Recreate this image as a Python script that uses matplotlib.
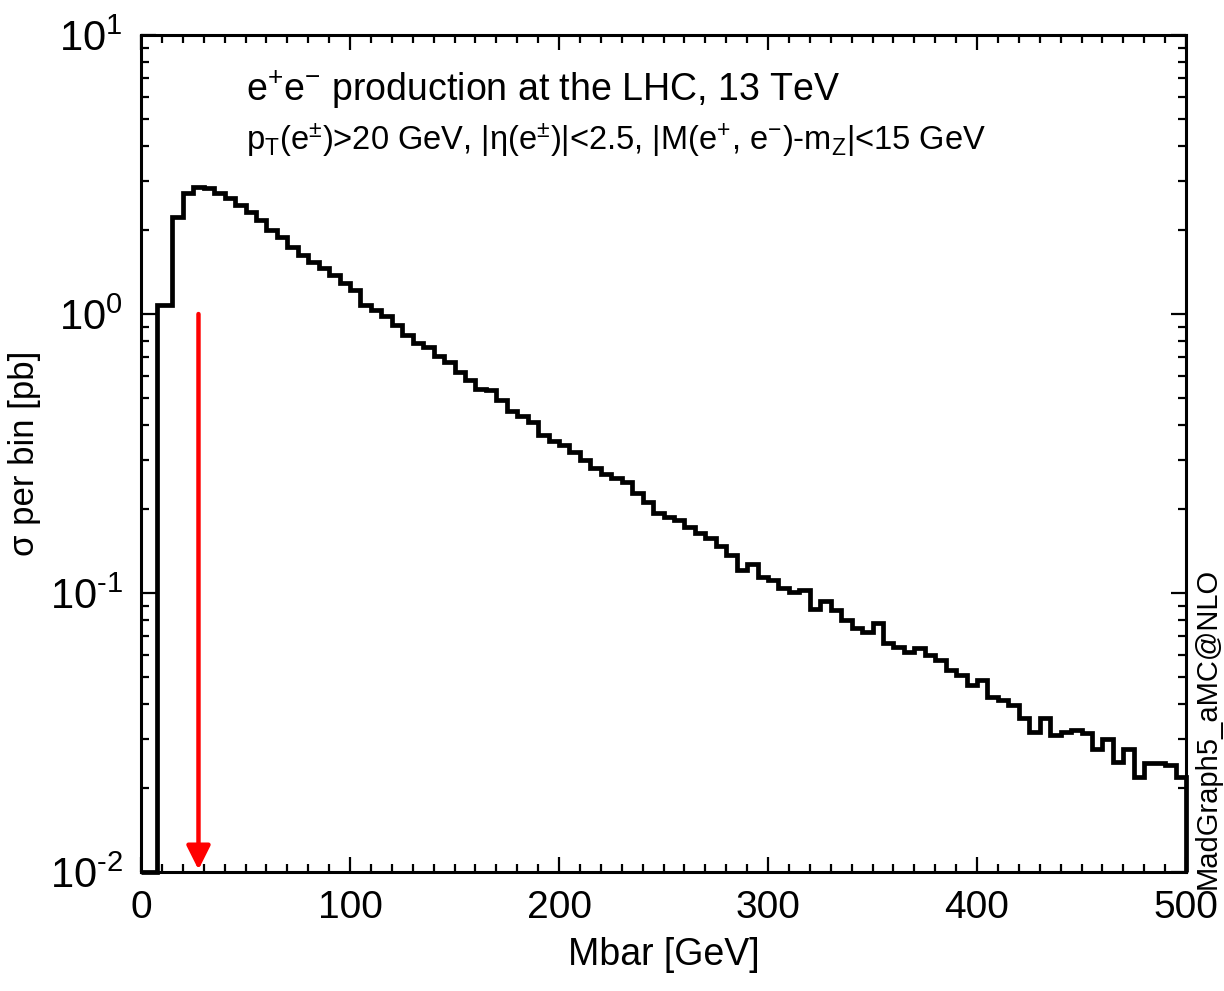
import matplotlib
matplotlib.use("Agg")
import matplotlib.pyplot as plt
import numpy as np
from matplotlib.ticker import LogLocator, MultipleLocator, FuncFormatter, NullFormatter

plt.rcParams['font.family'] = ['Liberation Sans Narrow', 'Liberation Sans', 'DejaVu Sans']
plt.rcParams['mathtext.fontset'] = 'custom'
plt.rcParams['mathtext.rm'] = 'Liberation Sans'
plt.rcParams['mathtext.it'] = 'Liberation Sans:italic'

# bin edges of the Mbar histogram [GeV]
bin_edges = [0, 7.5] + list(range(15, 505, 5))

# sigma per bin [pb]
sigma = [
    0.01, 1.08,
    2.23, 2.71, 2.86, 2.82, 2.71, 2.60, 2.46, 2.33, 2.17, 2.00,
    1.89, 1.74, 1.63, 1.54, 1.46, 1.38, 1.29, 1.22, 1.08, 1.03,
    0.98, 0.91, 0.84, 0.785, 0.76, 0.71, 0.675, 0.62, 0.58, 0.54,
    0.535, 0.49, 0.45, 0.43, 0.41, 0.37, 0.35, 0.34, 0.32, 0.30,
    0.28, 0.268, 0.258, 0.25, 0.228, 0.212, 0.193, 0.188, 0.183, 0.173,
    0.164, 0.158, 0.147, 0.137, 0.121, 0.127, 0.114, 0.111, 0.104, 0.101,
    0.1025, 0.088, 0.094, 0.087, 0.080, 0.0747, 0.0727, 0.0779, 0.066, 0.0642,
    0.0617, 0.0635, 0.060, 0.0575, 0.053, 0.0508, 0.0468, 0.0488, 0.0425, 0.0413,
    0.0397, 0.0356, 0.0318, 0.0356, 0.031, 0.0318, 0.0323, 0.0315, 0.0277, 0.0301,
    0.0249, 0.0277, 0.022, 0.0245, 0.0245, 0.0241, 0.022,
]

arrow_x = 27.5
arrow_top = 1.0


def pow10(v, pos):
    e = int(round(np.log10(v)))
    return '10$^{\\mathregular{%s}}$' % str(e).replace('-', '\u2010')


fig = plt.figure(figsize=(12.24, 9.91), dpi=100)
ax = fig.add_axes([0.1152, 0.120, 0.8538, 0.8447])

ax.stairs(sigma, bin_edges, baseline=0.01, color='black', lw=3.4, clip_on=False, zorder=3)

ax.annotate('', xy=(arrow_x, 0.0102), xytext=(arrow_x, arrow_top),
            arrowprops=dict(arrowstyle='-|>', color='red', lw=3.2,
                            mutation_scale=36, shrinkA=0, shrinkB=0),
            zorder=4)

ax.set_yscale('log')
ax.set_xlim(0, 500)
ax.set_ylim(1e-2, 1e1)

ax.xaxis.set_major_locator(MultipleLocator(100))
ax.xaxis.set_minor_locator(MultipleLocator(10))
ax.yaxis.set_major_locator(LogLocator(base=10, numticks=10))
ax.yaxis.set_minor_locator(LogLocator(base=10, subs=np.arange(2, 10), numticks=20))
ax.yaxis.set_major_formatter(FuncFormatter(pow10))
ax.yaxis.set_minor_formatter(NullFormatter())

ax.tick_params(which='both', direction='in', top=True, right=True, width=1.6, color='black')
ax.tick_params(which='major', length=11)
ax.tick_params(which='minor', length=5.5)
ax.tick_params(axis='x', which='major', labelsize=28, pad=13)
ax.tick_params(axis='y', which='major', labelsize=30, pad=13)
for s in ax.spines.values():
    s.set_linewidth(2.2)

ax.set_xlabel('Mbar [GeV]', fontsize=27, labelpad=8)
ax.set_ylabel('σ per bin [pb]', fontsize=25, labelpad=6)

ax.text(0.1, 0.934, r'e$^{+}$e$^{-}$ production at the LHC, 13 TeV',
        transform=ax.transAxes, fontsize=27, va='center', ha='left')
ax.text(0.1, 0.874,
        r'p$_\mathrm{T}$(e$^{\pm}$)>20 GeV, |η(e$^{\pm}$)|<2.5, |M(e$^{+}$, e$^{-}$)-m$_\mathrm{Z}$|<15 GeV',
        transform=ax.transAxes, fontsize=23.5, va='center', ha='left')

fig.text(0.987, 0.103, 'MadGraph5_aMC@NLO', rotation=90, fontsize=21,
         ha='center', va='bottom')

fig.savefig('out.png', dpi=100)
